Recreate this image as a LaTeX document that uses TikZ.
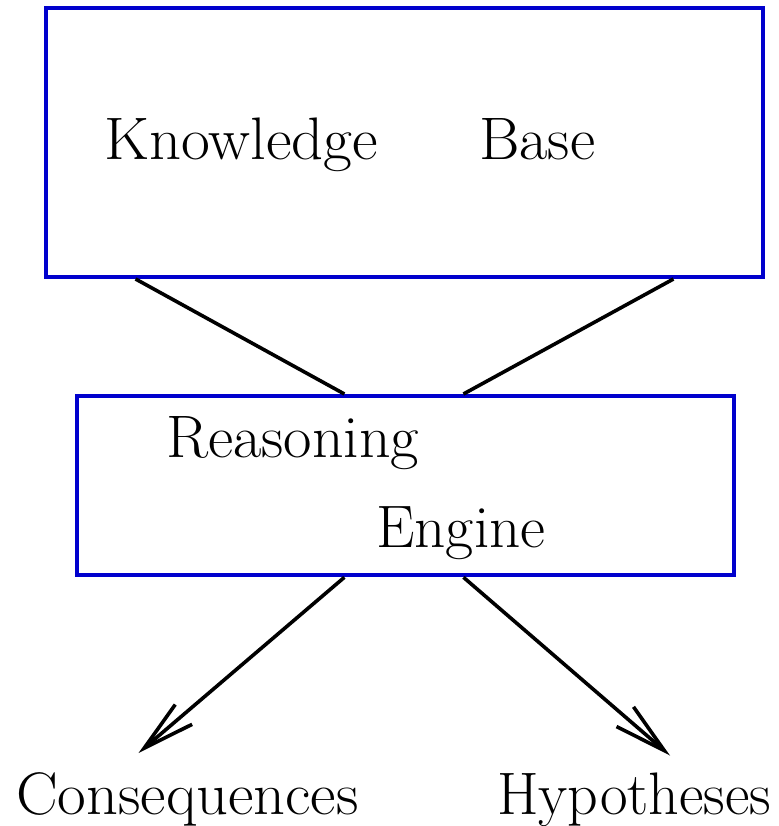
\documentclass[tikz,border=0pt]{standalone}
\usetikzlibrary{arrows.meta,calc}
\definecolor{boxblue}{RGB}{0,0,205}
\newcommand{\widetext}[2][1.03]{\scalebox{#1}[1]{#2}}
\begin{document}
\begin{tikzpicture}[x=1pt,y=-1pt,
  bluebox/.style={draw=boxblue,line width=4pt,rectangle,inner sep=0pt},
  txt/.style={inner sep=0pt,anchor=base west,font=\rmfamily\fontsize{60}{60}\selectfont},
  link/.style={draw=black,line width=3.6pt},
  arrowlink/.style={link,-{Straight Barb[length=52pt,width=26pt]}}]
\useasboundingbox (0,0) rectangle (778,826);
\node[bluebox,minimum width=717pt,minimum height=269pt] (kb) at (404.5,142.5) {};
\node[bluebox,minimum width=657.5pt,minimum height=179.3pt] (re) at (405.25,485.65) {};
\node[txt] (t1) at (104,160) {\widetext[1.045]{Knowledge}};
\node[txt] (t2) at (479,160) {\widetext{Base}};
\node[txt] (t3) at (166,457) {\widetext{Reasoning}};
\node[txt] (t4) at (376,547) {\widetext[1.02]{Engine}};
\node[txt] (t5) at (16,814) {\widetext[1.04]{Consequences}};
\node[txt] (t6) at (497,814) {\widetext[1.0]{Hypotheses}};
\coordinate (c1) at (138.5,753);
\coordinate (c2) at (670,755.5);
\draw[link] ($(kb.south west)!0.127!(kb.south east)$) -- ($(re.north west)!0.408!(re.north east)$);
\draw[link] ($(kb.south west)!0.873!(kb.south east)$) -- ($(re.north west)!0.588!(re.north east)$);
\draw[arrowlink] ($(re.south west)!0.408!(re.south east)$) -- (c1);
\draw[arrowlink] ($(re.south west)!0.588!(re.south east)$) -- (c2);
\end{tikzpicture}
\end{document}
